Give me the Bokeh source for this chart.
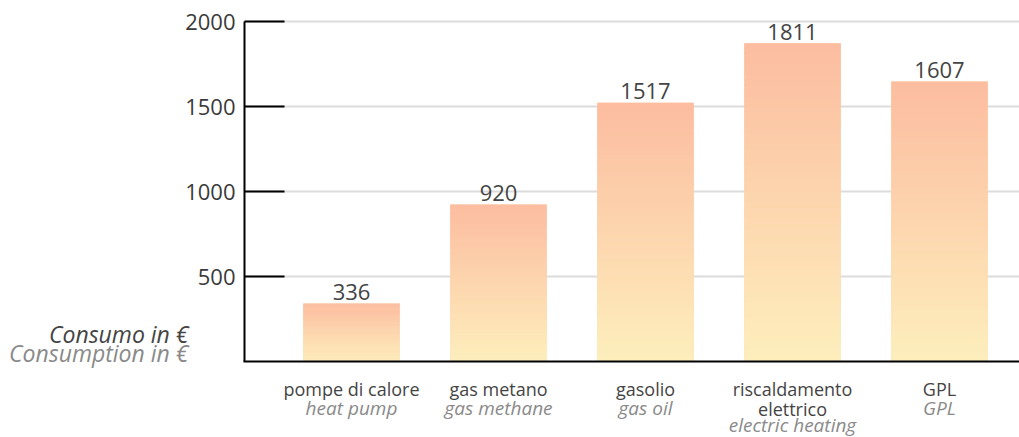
from bokeh.plotting import figure
from bokeh.models import Range1d
from bokeh.core.properties import value
from bokeh.embed import file_html
from bokeh.resources import INLINE

# ---- data ----
categories_it = ["pompe di calore", "gas metano", "gasolio", "riscaldamento\nelettrico", "GPL"]
categories_en = ["heat pump", "gas methane", "gas oil", "electric heating", "GPL"]
value_labels = [336, 920, 1517, 1811, 1607]
bar_heights = [341, 923, 1522, 1872, 1647]   # bar tops as drawn in the picture
y_ticks = [500, 1000, 1500, 2000]
y_title_it = "Consumo in €"
y_title_en = "Consumption in €"

FONT = "Open Sans"
W, H = 1019, 437
# layout in canvas pixels
AXIS_X, TICK_END_X = 244, 284
PLOT_TOP, PLOT_BOTTOM = 21, 361
FIRST_CENTER, STEP = 351.0, 147.0
Y_MAX = 2000
ypx = Y_MAX / (PLOT_BOTTOM - PLOT_TOP)   # data units per px (y)
xpx = 1.0 / STEP                          # data units per px (x)
BASE_SHIFT = 0.38                         # renderer's baseline offset (in em)

def X(px):   # canvas x -> data x
    return (px - FIRST_CENTER) * xpx

def Y(px):   # canvas y -> data y
    return (PLOT_BOTTOM - px) * ypx

def YB(px, fs):  # canvas baseline y -> data y for a text of font size fs
    return Y(px - BASE_SHIFT * fs)

p = figure(width=W, height=H, output_backend="svg", toolbar_location=None,
           x_range=Range1d(X(0), X(W)), y_range=Range1d(Y(H), Y(0)),
           min_border=0)
p.outline_line_color = None
p.background_fill_color = "white"
p.border_fill_color = "white"
p.xaxis.visible = False
p.yaxis.visible = False
p.xgrid.grid_line_color = None
p.ygrid.grid_line_color = None

x_axis = X(AXIS_X)
x_tick_end = X(TICK_END_X)
x_right = X(W)

# grid lines
p.segment(x0=[x_axis] * len(y_ticks), y0=y_ticks, x1=[x_right] * len(y_ticks), y1=y_ticks,
          line_color="#dcdcdc", line_width=2)

# gradient bars
top_rgb = (252, 189, 160)
bot_rgb = (253, 238, 188)
def lerp(t):
    return "#%02x%02x%02x" % tuple(int(round(b + (a - b) * t)) for a, b in zip(top_rgb, bot_rgb))

N = 60
bw = 96.5 * xpx
xs = list(range(len(bar_heights)))
p.vbar(x=xs, top=bar_heights, width=bw, fill_color=lerp(0.5), line_color=None)
lefts, rights, bottoms, tops, colors = [], [], [], [], []
for i, h in enumerate(bar_heights):
    for k in range(N):
        lefts.append(i - bw / 2)
        rights.append(i + bw / 2)
        bottoms.append(h * k / N)
        tops.append(min(h, h * (k + 1) / N + h * 0.2 / N))
        colors.append(lerp(k / (N - 1)))
p.quad(left=lefts, right=rights, bottom=bottoms, top=tops, fill_color=colors, line_color=None)

# axis lines and ticks
p.segment(x0=[x_axis] * len(y_ticks), y0=y_ticks, x1=[x_tick_end] * len(y_ticks), y1=y_ticks,
          line_color="black", line_width=2)
p.segment(x0=[x_axis], y0=[0], x1=[x_axis], y1=[Y_MAX], line_color="black", line_width=2)
p.segment(x0=[x_axis - 1 * xpx], y0=[0], x1=[x_right], y1=[0], line_color="black", line_width=2)

# y tick labels
p.text(x=[X(AXIS_X - 9)] * len(y_ticks), y=y_ticks, text=[str(t) for t in y_ticks],
       text_align="right", text_baseline="middle", text_font=value(FONT),
       text_font_size="22px", text_color="#3a3a3a")

# value labels (3 px above each bar)
p.text(x=xs, y=[h + (3 + BASE_SHIFT * 22) * ypx for h in bar_heights],
       text=[str(v) for v in value_labels],
       text_align="center", text_baseline="alphabetic", text_font=value(FONT),
       text_font_size="22px", text_color="#444444")

# category labels (Italian rows, then English row)
row_baselines = [395, 415, 432]
tx, ty, tt, tc, ts, tf = [], [], [], [], [], []
for i, (it, en) in enumerate(zip(categories_it, categories_en)):
    lines = [(t, "#444444", "normal", 18) for t in it.split("\n")] + [(en, "#8a8a8a", "italic", 19)]
    for j, (t, c, st, fs) in enumerate(lines):
        tx.append(i)
        ty.append(YB(row_baselines[j], fs))
        tt.append(t)
        tc.append(c)
        ts.append(st)
        tf.append("%dpx" % fs)
p.text(x=tx, y=ty, text=tt, text_color=tc, text_font_style=ts, text_font_size=tf,
       text_align="center", text_baseline="alphabetic", text_font=value(FONT))

# y title (two languages)
p.text(x=[X(188)] * 2, y=[YB(342, 23), YB(361, 23)], text=[y_title_it, y_title_en],
       text_color=["#444444", "#8a8a8a"], text_font_style="italic", text_align="right",
       text_baseline="alphabetic", text_font=value(FONT), text_font_size="23px")

open("out.html", "w").write(file_html(p, INLINE))
